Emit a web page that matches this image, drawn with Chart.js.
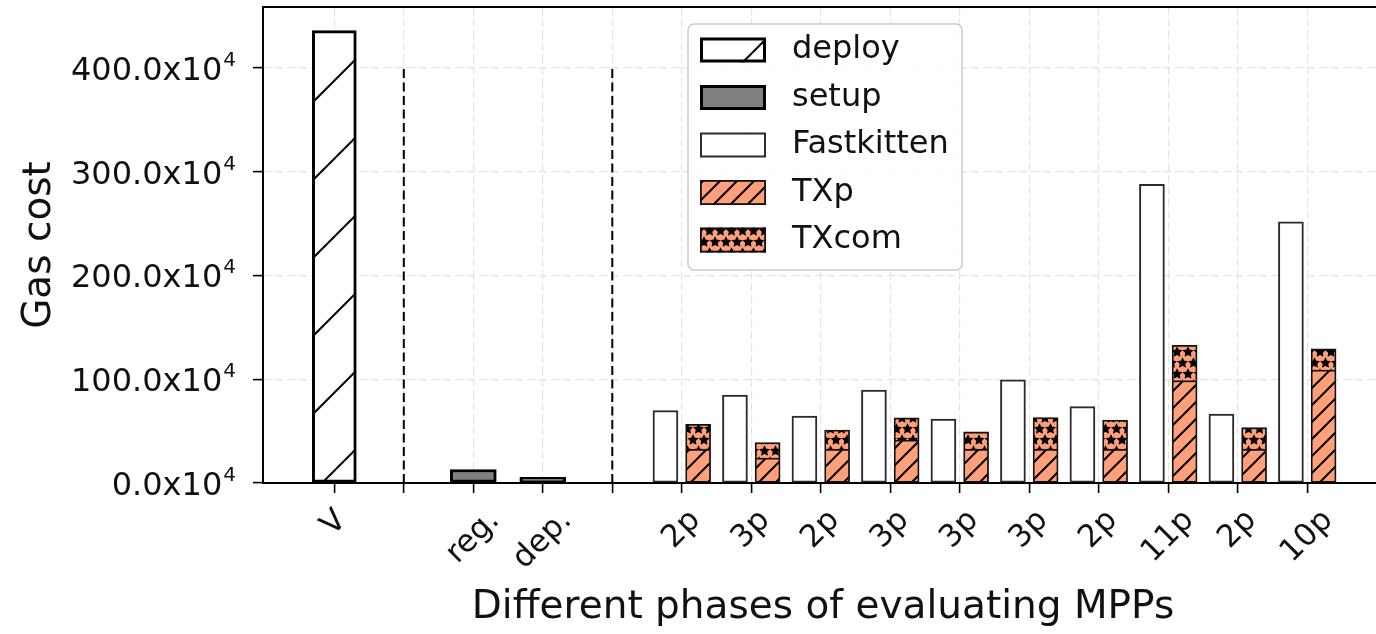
<!DOCTYPE html>
<html>
<head>
<meta charset="utf-8">
<script src="https://cdn.jsdelivr.net/npm/chart.js@4.4.1/dist/chart.umd.min.js"></script>
<style>
  html, body { margin: 0; padding: 0; background: #fff; overflow: hidden; }
  #wrap { width: 1384px; height: 634px; }
</style>
</head>
<body>
<div id="wrap"><canvas id="chart" width="1384" height="634"></canvas></div>
<script>
// tick labels of the category axis (empty slots are the separator positions)
const labels = ['V', '', 'reg.', 'dep.', '', '2p', '3p', '2p', '3p', '3p', '3p', '2p', '11p', '2p', '10p'];

// values in units of 10^4 gas
const deployIdx = [0];
const deployVals = [436];
const setupIdx = [2, 3];
const setupVals = [13, 5.5];
const mppIdx = [5, 6, 7, 8, 9, 10, 11, 12, 13, 14];
const fastkitten = [69.7, 84.8, 64.6, 89.6, 61.7, 99.3, 73.6, 287.9, 66.5, 251.6];
const txp = [32.5, 24, 32.5, 41.4, 32.5, 32.5, 32.5, 98.6, 32.5, 108.9];
const txcom = [24, 15, 18.6, 21.3, 16.7, 30.5, 28.2, 34.1, 20.8, 20.3];

const yTicks = [0, 100, 200, 300, 400];
const separatorAt = [1, 4];
const separatorTop = 400;

const FONT = '"DejaVu Sans", sans-serif';
Chart.defaults.font.family = FONT;
Chart.defaults.color = '#111';

const canvas = document.getElementById('chart');
const ctx0 = canvas.getContext('2d');

function tile(w, h, bg, paint) {
    const c = document.createElement('canvas');
    c.width = w;
    c.height = h;
    const g = c.getContext('2d');
    g.fillStyle = bg;
    g.fillRect(0, 0, w, h);
    paint(g, w, h);
    return ctx0.createPattern(c, 'repeat');
}

function slashes(g, h, offsets, lw) {
    g.strokeStyle = '#000';
    g.lineWidth = lw;
    offsets.forEach(c => {
        g.beginPath();
        g.moveTo(c + 10, -10);
        g.lineTo(c - h - 10, h + 10);
        g.stroke();
    });
}

function star(g, cx, cy, R) {
    g.beginPath();
    for (let k = 0; k < 10; k++) {
        const r = k % 2 ? R * 0.5 : R;
        const a = -Math.PI / 2 + k * Math.PI / 5;
        g.lineTo(cx + r * Math.cos(a), cy + r * Math.sin(a));
    }
    g.closePath();
    g.fill();
    g.stroke();
}

const deployHatch = tile(78, 78, '#ffffff', (g, w, h) => slashes(g, h, [25 - 78, 25, 103, 181], 2));
const txpHatch = tile(17, 17, '#ffa07a', (g, w, h) => slashes(g, h, [-17, 0, 17, 34], 2));
const txcomHatch = tile(11, 22, '#ffa07a', (g, w, h) => {
    g.fillStyle = '#000';
    g.strokeStyle = '#000';
    g.lineWidth = 1.2;
    const pts = [[0, 0], [5.5, 11]];
    pts.forEach(([x, y]) => {
        [-w, 0, w].forEach(dx => [-h, 0, h].forEach(dy => star(g, x + dx, y + dy, 4.5)));
    });
});

const OFF = 0.235;

const data = {
    datasets: [{
        label: 'deploy',
        data: deployIdx.map((x, i) => ({x: x, y: deployVals[i]})),
        backgroundColor: deployHatch,
        borderColor: '#000',
        borderWidth: 3,
        barThickness: 44
    }, {
        label: 'setup',
        data: setupIdx.map((x, i) => ({x: x, y: setupVals[i]})),
        backgroundColor: '#808080',
        borderColor: '#000',
        borderWidth: 3,
        barThickness: 46
    }, {
        label: 'Fastkitten',
        data: mppIdx.map((x, i) => ({x: x - OFF, y: fastkitten[i]})),
        backgroundColor: '#ffffff',
        borderColor: '#2b2b2b',
        borderWidth: 2,
        barThickness: 25
    }, {
        label: 'TXp',
        data: mppIdx.map((x, i) => ({x: x + OFF, y: txp[i]})),
        backgroundColor: txpHatch,
        borderColor: '#111',
        borderWidth: 1.8,
        barThickness: 25,
        stack: 'tx'
    }, {
        label: 'TXcom',
        data: mppIdx.map((x, i) => ({x: x + OFF, y: txcom[i]})),
        backgroundColor: txcomHatch,
        borderColor: '#111',
        borderWidth: 1.8,
        borderSkipped: 'start',
        barThickness: 25,
        stack: 'tx'
    }]
};

const gridStyle = {
    offset: false,
    color: '#e4e4e4',
    lineWidth: 1.2,
    tickColor: '#000',
    tickLength: 10,
    tickWidth: 1.6
};

// dashed black separators between the groups
const separators = {
    id: 'separators',
    afterDatasetsDraw(chart) {
        const {ctx, scales: {x, y}} = chart;
        ctx.save();
        ctx.strokeStyle = '#000';
        ctx.lineWidth = 2;
        ctx.setLineDash([9, 4.5]);
        separatorAt.forEach(idx => {
            const px = x.getPixelForValue(idx);
            ctx.beginPath();
            ctx.moveTo(px, y.getPixelForValue(0));
            ctx.lineTo(px, y.getPixelForValue(separatorTop));
            ctx.stroke();
        });
        ctx.restore();
    }
};

// left / bottom / top spines
const frame = {
    id: 'frame',
    afterDatasetsDraw(chart) {
        const {ctx, chartArea: a} = chart;
        ctx.save();
        ctx.strokeStyle = '#000';
        ctx.lineWidth = 2;
        ctx.beginPath();
        ctx.moveTo(a.right + 2, a.top);
        ctx.lineTo(a.left, a.top);
        ctx.lineTo(a.left, a.bottom);
        ctx.lineTo(a.right + 2, a.bottom);
        ctx.stroke();
        ctx.restore();
    }
};

// tick labels: rotated x labels centred under their ticks, y labels with a raised exponent
const tickLabels = {
    id: 'tickLabels',
    afterDraw(chart) {
        const {ctx, chartArea: a, scales: {x, y}} = chart;
        const size = 31;
        ctx.save();
        ctx.fillStyle = '#111';
        ctx.font = size + 'px ' + FONT;
        ctx.textAlign = 'center';
        ctx.textBaseline = 'middle';
        labels.forEach((t, i) => {
            if (!t) return;
            const w = ctx.measureText(t).width;
            const bh = (w + size * 1.164) * Math.SQRT1_2;
            ctx.save();
            ctx.translate(x.getPixelForValue(i), a.bottom + 20 + bh / 2);
            ctx.rotate(-Math.PI / 4);
            ctx.fillText(t, 0, 0);
            ctx.restore();
        });

        ctx.textAlign = 'right';
        ctx.textBaseline = 'alphabetic';
        const right = a.left - 27;
        yTicks.forEach(v => {
            const py = y.getPixelForValue(v);
            ctx.font = '20px ' + FONT;
            ctx.fillText('4', right, py - 2);
            const ew = ctx.measureText('4').width;
            ctx.font = '32px ' + FONT;
            ctx.fillText(v.toFixed(1) + 'x10', right - ew - 1, py + 12);
        });
        ctx.restore();
    }
};

// legend box inside the plot
const boxLegend = {
    id: 'boxLegend',
    afterDraw(chart) {
        const {ctx, chartArea: a} = chart;
        const left = a.left + 425, top = a.top + 17;
        ctx.save();
        ctx.beginPath();
        ctx.roundRect(left, top, 274, 246, 6);
        ctx.fillStyle = 'rgba(255,255,255,0.85)';
        ctx.fill();
        ctx.strokeStyle = '#cccccc';
        ctx.lineWidth = 1.5;
        ctx.stroke();
        ctx.font = '32px ' + FONT;
        ctx.textBaseline = 'middle';
        chart.data.datasets.forEach((ds, i) => {
            const cy = top + 26 + i * 47.5;
            const lw = ds.borderWidth;
            const px = left + 12, pw = 66, ph = 25;
            ctx.fillStyle = ds.backgroundColor;
            ctx.fillRect(px, cy - ph / 2, pw, ph);
            ctx.strokeStyle = ds.borderColor;
            ctx.lineWidth = lw;
            ctx.strokeRect(px + lw / 2, cy - ph / 2 + lw / 2, pw - lw, ph - lw);
            ctx.fillStyle = '#111';
            ctx.fillText(ds.label, left + 104, cy);
        });
        ctx.restore();
    }
};

const config = {
    type: 'bar',
    data: data,
    options: {
        responsive: false,
        animation: false,
        layout: {padding: {top: 7, right: 1, bottom: 0, left: 0}},
        datasets: {
            bar: {grouped: false, borderSkipped: false}
        },
        plugins: {
            legend: {display: false},
            tooltip: {enabled: false}
        },
        scales: {
            x: {
                type: 'linear',
                offset: false,
                min: -1.026,
                max: 15.09,
                afterBuildTicks: s => { s.ticks = labels.map((l, i) => ({value: i})); },
                afterFit: s => { s.height = 151; s.paddingLeft = 0; s.paddingRight = 0; },
                ticks: {display: false},
                grid: gridStyle,
                border: {display: false, dash: [8, 4]},
                title: {
                    display: true,
                    text: 'Different phases of evaluating MPPs',
                    font: {size: 39},
                    color: '#111',
                    padding: {top: 0, bottom: 3}
                }
            },
            y: {
                stacked: true,
                min: 0,
                max: 458.7,
                afterBuildTicks: s => { s.ticks = yTicks.map(v => ({value: v})); },
                afterFit: s => { s.width = 263; s.paddingTop = 0; s.paddingBottom = 0; },
                ticks: {display: false},
                grid: gridStyle,
                border: {display: false, dash: [8, 4]},
                title: {
                    display: true,
                    text: 'Gas cost',
                    font: {size: 39},
                    color: '#111',
                    padding: {top: 16, bottom: 0}
                }
            }
        }
    },
    plugins: [separators, frame, tickLabels, boxLegend]
};

let myChart = new Chart(canvas, config);
</script>
</body>
</html>
